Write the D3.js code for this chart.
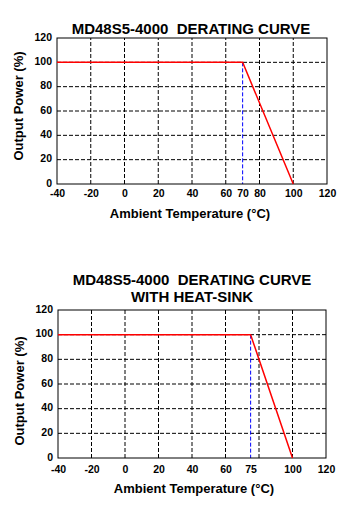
<!DOCTYPE html>
<html>
<head>
<meta charset="utf-8">
<script src="https://cdn.jsdelivr.net/npm/d3@7"></script>
<style>
  body { margin: 0; background: #fff; }
  text { font-family: "Liberation Sans", Arial, sans-serif; font-weight: bold; fill: #000; white-space: pre; }
</style>
</head>
<body>
<div id="d3"></div>
<script>
// chart data
var titleTop = ["MD48S5-4000  DERATING CURVE"];
var titleBottom = ["MD48S5-4000  DERATING CURVE", "WITH HEAT-SINK"];

var tempTop = [-40, 70, 100];
var powerTop = [100, 100, 0];
var tempBottom = [-40, 75, 100];
var powerBottom = [100, 100, 0];

var xTicksTop = [-40, -20, 0, 20, 40, 60, 70, 80, 100, 120];
var xTicksBottom = [-40, -20, 0, 20, 40, 60, 75, 100, 120];
var xGrid = [-20, 0, 20, 40, 60, 80, 100];
var yTicks = [0, 20, 40, 60, 80, 100, 120];
var yGrid = [20, 40, 60, 80, 100];

var xLabel = "Ambient Temperature (\u00B0C)";
var yLabel = "Output Power (%)";

var svg = d3.select("#d3").append("svg").attr("width", 350).attr("height", 513);

function drawChart(opt) {
    var x = d3.scaleLinear().domain([-40, 120]).range([opt.left, opt.right]);
    var y = d3.scaleLinear().domain([0, 120]).range([opt.bottom, opt.top]);
    var g = svg.append("g");

    // title
    opt.title.forEach(function(t, i) {
        g.append("text")
            .attr("x", opt.titleX)
            .attr("y", opt.titleY + i * 17)
            .attr("text-anchor", "middle")
            .attr("xml:space", "preserve")
            .style("font-size", "15px")
            .text(t);
    });

    // grid
    g.append("g").selectAll("line").data(xGrid).enter().append("line")
        .attr("x1", function(d){ return x(d); })
        .attr("x2", function(d){ return x(d); })
        .attr("y1", y(0)).attr("y2", y(120))
        .attr("stroke", "#000").attr("stroke-dasharray", "4,2");
    g.append("g").selectAll("line").data(yGrid).enter().append("line")
        .attr("y1", function(d){ return y(d); })
        .attr("y2", function(d){ return y(d); })
        .attr("x1", x(-40)).attr("x2", x(120))
        .attr("stroke", "#000").attr("stroke-dasharray", "4,2");

    // blue marker at knee
    g.append("line")
        .attr("x1", x(opt.temp[1])).attr("x2", x(opt.temp[1]))
        .attr("y1", y(opt.power[1])).attr("y2", y(0))
        .attr("stroke", "#0000ff").attr("stroke-dasharray", "4,2");

    // frame
    g.append("rect")
        .attr("x", x(-40)).attr("y", y(120))
        .attr("width", x(120) - x(-40)).attr("height", y(0) - y(120))
        .attr("fill", "none").attr("stroke", "#000");

    // curve
    var line = d3.line()
        .x(function(d, i){ return x(opt.temp[i]); })
        .y(function(d){ return y(d); });
    g.append("path")
        .attr("d", line(opt.power))
        .attr("fill", "none")
        .attr("stroke", "#ff0000")
        .attr("stroke-width", 1.5);

    // axes
    var xAxis = d3.axisBottom(x).tickValues(opt.xTicks).tickFormat(String).tickSize(0).tickPadding(opt.xPad);
    var ax = g.append("g").attr("transform", "translate(0," + y(0) + ")").call(xAxis);
    ax.select(".domain").remove();
    ax.selectAll("text").style("font-size", "10.5px").attr("font-family", null);

    var yAxis = d3.axisLeft(y).tickValues(yTicks).tickFormat(String).tickSize(0).tickPadding(opt.yPad);
    var ay = g.append("g").attr("transform", "translate(" + x(-40) + ",0)").call(yAxis);
    ay.select(".domain").remove();
    ay.selectAll("text").style("font-size", "10.5px").attr("font-family", null).attr("dy", "0.2em");

    // axis titles
    g.append("text")
        .attr("x", opt.xLabelX).attr("y", opt.xLabelY)
        .attr("text-anchor", "middle")
        .style("font-size", "13px")
        .text(xLabel);
    g.append("text")
        .attr("transform", "translate(" + opt.yLabelX + "," + opt.yLabelY + ") rotate(-90)")
        .attr("text-anchor", "middle")
        .style("font-size", "13px")
        .text(yLabel);
}

drawChart({
    title: titleTop, titleX: 191, titleY: 34,
    left: 57, right: 327, top: 38, bottom: 184,
    temp: tempTop, power: powerTop, xTicks: xTicksTop,
    xPad: 6, yPad: 5,
    xLabelX: 190, xLabelY: 218,
    yLabelX: 23, yLabelY: 106
});

drawChart({
    title: titleBottom, titleX: 192, titleY: 285,
    left: 58, right: 326, top: 310, bottom: 458,
    temp: tempBottom, power: powerBottom, xTicks: xTicksBottom,
    xPad: 8, yPad: 5,
    xLabelX: 194, xLabelY: 493,
    yLabelX: 24, yLabelY: 391
});
</script>
</body>
</html>
